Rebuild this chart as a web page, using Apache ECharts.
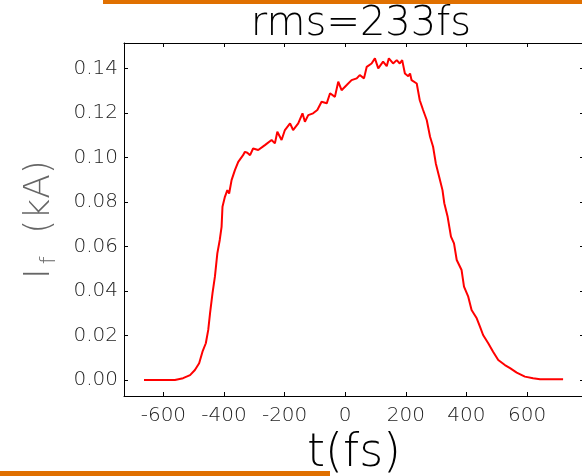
<!DOCTYPE html>
<html>
<head>
<meta charset="UTF-8">
<title>rms=233fs</title>
<script src="https://cdn.jsdelivr.net/npm/echarts@6/dist/echarts.min.js"></script>
<style>
  body { margin: 0; background: #fff; }
  #root { width: 582px; height: 476px; }
</style>
</head>
<body>
<div id="root"></div>
<script>
// values
var timeFs = [-664, -562, -535, -512, -496, -482, -471, -460, -452, -446, -438, -430, -422, -414, -408, -405,
  -397, -389, -383, -375, -364, -353, -347, -337, -331, -323, -314, -304, -298, -287, -282, -265, -243, -232,
  -224, -210, -199, -182, -172, -155, -141, -133, -122, -106, -92, -78, -61, -50, -34, -23, -12, 5, 21, 38, 48,
  62, 71, 87, 98, 109, 125, 137, 144, 158, 170, 180, 188, 197, 208, 214, 219, 236, 246, 257, 269, 280, 290, 299,
  310, 321, 327, 338, 349, 359, 368, 384, 392, 406, 417, 434, 445, 455, 472, 488, 505, 527, 544, 566, 593, 620,
  643, 719];
var currentKA = [0, 0, 0.0008, 0.0022, 0.0045, 0.0075, 0.0127, 0.0165, 0.0225, 0.0300, 0.0389, 0.0464, 0.0569,
  0.0629, 0.0688, 0.0778, 0.0823, 0.0853, 0.0838, 0.0898, 0.0943, 0.0980, 0.0988, 0.1010, 0.1025, 0.1021, 0.1010,
  0.1040, 0.1048, 0.1033, 0.1025, 0.1055, 0.1078, 0.1063, 0.1115, 0.1078, 0.1123, 0.1153, 0.1123, 0.1153, 0.1198,
  0.1160, 0.1190, 0.1198, 0.1213, 0.1250, 0.1243, 0.1288, 0.1272, 0.1340, 0.1302, 0.1325, 0.1347, 0.1355, 0.1370,
  0.1355, 0.1407, 0.1422, 0.1445, 0.1400, 0.1430, 0.1410, 0.1445, 0.1422, 0.1437, 0.1422, 0.1437, 0.1377, 0.1365,
  0.1377, 0.1347, 0.1332, 0.1257, 0.1213, 0.1168, 0.1093, 0.1048, 0.0973, 0.0913, 0.0853, 0.0794, 0.0733, 0.0644,
  0.0614, 0.0539, 0.0494, 0.0419, 0.0374, 0.0314, 0.0277, 0.0239, 0.0202, 0.0165, 0.0127, 0.0090, 0.0067, 0.0053,
  0.0033, 0.0015, 0.0008, 0.0003, 0.0003];
var xTicks = [-600, -400, -200, 0, 200, 400, 600];
var yTicks = [0.00, 0.02, 0.04, 0.06, 0.08, 0.10, 0.12, 0.14];

var points = timeFs.map(function (t, i) { return [t, currentKA[i]]; });

var font = '"DejaVu Sans", sans-serif';
var tickStyle = { show: true, inside: true, length: 4, lineStyle: { color: '#000', width: 1 } };
var frameLine = { show: true, onZero: false, lineStyle: { color: '#000', width: 1 } };

var chart = echarts.init(document.getElementById('root'));
chart.setOption({
  animation: false,
  backgroundColor: '#fff',
  title: {
    text: 'rms=233fs',
    left: 356, top: 0, textAlign: 'center',
    textStyle: { fontFamily: font, fontWeight: 200, fontSize: 40, color: '#000' }
  },
  grid: { left: 124, top: 43, width: 460, bottom: 80, outerBoundsMode: 'none', containLabel: false },
  xAxis: [{
    type: 'value', min: -730, max: 788,
    name: 't(fs)', nameLocation: 'middle', nameGap: 32,
    nameTextStyle: { fontFamily: font, fontWeight: 200, fontSize: 46, color: '#000' },
    splitLine: { show: false },
    axisLine: frameLine,
    axisTick: Object.assign({ customValues: xTicks }, tickStyle),
    axisLabel: { customValues: xTicks, margin: 10, fontFamily: font, fontWeight: 200, fontSize: 20, color: '#222' }
  }, {
    type: 'value', position: 'top', min: -730, max: 788,
    splitLine: { show: false },
    axisLine: frameLine,
    axisTick: Object.assign({ customValues: xTicks }, tickStyle),
    axisLabel: { show: false }
  }],
  yAxis: [{
    type: 'value', min: -0.0072, max: 0.1514,
    name: '{i|I}{f|f}  (kA)', nameLocation: 'middle', nameGap: 64, nameRotate: 90,
    nameTextStyle: {
      fontFamily: font, fontWeight: 200, fontSize: 36, color: '#666',
      rich: {
        i: { fontFamily: font, fontSize: 36, color: '#666' },
        f: { fontFamily: font, fontSize: 22, color: '#666', padding: [18, 0, 0, 4] }
      }
    },
    splitLine: { show: false },
    axisLine: frameLine,
    axisTick: Object.assign({ customValues: yTicks }, tickStyle),
    axisLabel: {
      customValues: yTicks, margin: 6, fontFamily: font, fontWeight: 200, fontSize: 20, color: '#222',
      formatter: function (v) { return v.toFixed(2); }
    }
  }, {
    type: 'value', position: 'right', min: -0.0072, max: 0.1514,
    splitLine: { show: false },
    axisLine: frameLine,
    axisTick: Object.assign({ customValues: yTicks }, tickStyle),
    axisLabel: { show: false }
  }],
  series: [{
    type: 'line',
    data: points,
    showSymbol: false,
    lineStyle: { color: '#ff0000', width: 2 },
    itemStyle: { color: '#ff0000' }
  }],
  graphic: [
    { type: 'rect', shape: { x: 103, y: 0, width: 479, height: 4 }, style: { fill: '#e07000' } },
    { type: 'rect', shape: { x: 0, y: 471, width: 330, height: 5 }, style: { fill: '#e07000' } }
  ]
});
</script>
</body>
</html>
